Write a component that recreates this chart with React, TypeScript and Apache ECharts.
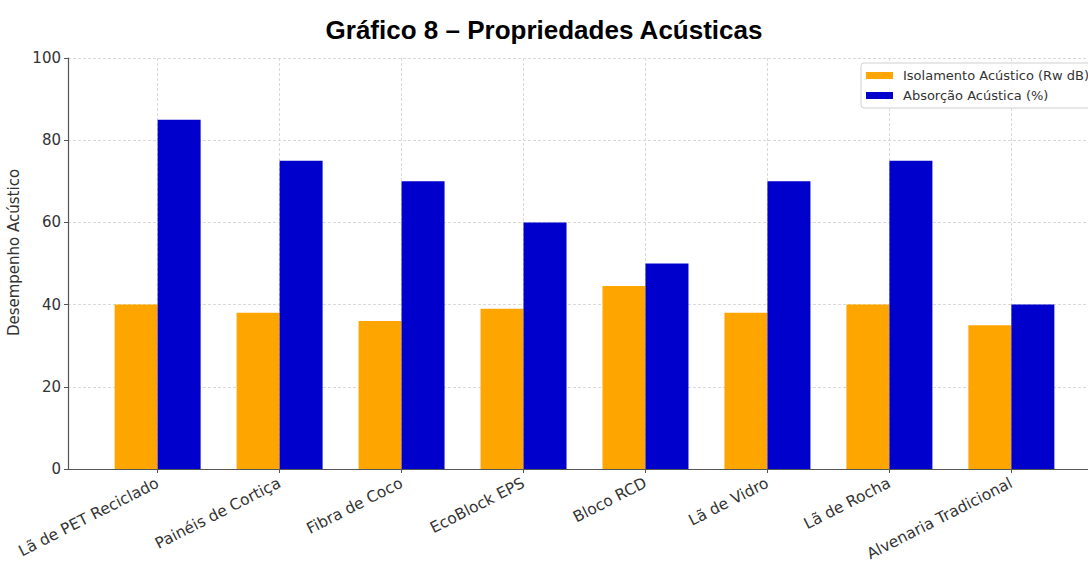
import React, { useEffect, useRef } from "react";
import * as echarts from "echarts";

const categories = [
  "Lã de PET Reciclado",
  "Painéis de Cortiça",
  "Fibra de Coco",
  "EcoBlock EPS",
  "Bloco RCD",
  "Lã de Vidro",
  "Lã de Rocha",
  "Alvenaria Tradicional",
];
const isolamento = [40, 38, 36, 39, 44.5, 38, 40, 35];
const absorcao = [85, 75, 70, 60, 50, 70, 75, 40];
const seriesNames = ["Isolamento Acústico (Rw dB)", "Absorção Acústica (%)"];
const yTicks = [0, 20, 40, 60, 80, 100];

const FONT = "DejaVu Sans";

export default function App() {
  const ref = useRef<HTMLDivElement>(null);
  useEffect(() => {
    if (!ref.current) return;
    const chart = echarts.init(ref.current, null, { renderer: "svg" });
    const idx = categories.map((_, i) => i);
    chart.setOption({
      animation: false,
      backgroundColor: "#ffffff",
      title: {
        text: "Gráfico 8 – Propriedades Acústicas",
        left: "center",
        top: 12,
        textStyle: {
          fontFamily: "Liberation Sans",
          fontWeight: "bold",
          fontSize: 26,
          color: "#000",
        },
      },
      legend: {
        orient: "vertical",
        left: 861,
        top: 63,
        padding: [6, 6, 6, 5],
        itemWidth: 27,
        itemHeight: 7,
        itemGap: 7,
        borderColor: "#d0d0d0",
        borderWidth: 1,
        borderRadius: 3,
        backgroundColor: "rgba(255,255,255,0.85)",
        icon: "rect",
        textStyle: { fontFamily: FONT, fontSize: 13, color: "#333", padding: [0, 0, 0, 5] },
        data: seriesNames,
      },
      grid: {
        left: 68,
        top: 58,
        bottom: 95,
        right: -13,
        containLabel: false,
        outerBoundsMode: "none",
      },
      xAxis: {
        type: "value",
        min: -0.735,
        max: 7.735,
        axisLine: { show: true, onZero: false, lineStyle: { color: "#555", width: 1.2 } },
        axisTick: { show: true, length: 4, customValues: idx, lineStyle: { color: "#555" } },
        axisLabel: {
          customValues: idx,
          rotate: 27,
          margin: 13,
          fontFamily: FONT,
          fontSize: 15.5,
          color: "#333",
          formatter: (v: number) => categories[Math.round(v)] ?? "",
        },
        splitLine: {
          show: true,
          lineStyle: { color: "#d9d9d9", type: [3, 2], width: 1 },
        },
      },
      yAxis: {
        type: "value",
        min: yTicks[0],
        max: yTicks[yTicks.length - 1],
        interval: 20,
        name: "Desempenho Acústico",
        nameLocation: "middle",
        nameGap: 37,
        nameTextStyle: { fontFamily: FONT, fontSize: 15, color: "#333", padding: [0, 0, 0, 22] },
        axisLine: { show: true, onZero: false, lineStyle: { color: "#555", width: 1.2 } },
        axisTick: { show: true, length: 4, lineStyle: { color: "#555" } },
        axisLabel: { fontFamily: FONT, fontSize: 15, color: "#333", margin: 7 },
        splitLine: {
          show: true,
          lineStyle: { color: "#d9d9d9", type: [3, 2], width: 1 },
        },
      },
      series: [
        {
          name: seriesNames[0],
          type: "bar",
          barWidth: 43,
          barGap: "0%",
          itemStyle: { color: "#FFA500" },
          data: isolamento.map((v, i) => [i, v]),
        },
        {
          name: seriesNames[1],
          type: "bar",
          barWidth: 43,
          barGap: "0%",
          itemStyle: { color: "#0000CD" },
          data: absorcao.map((v, i) => [i, v]),
        },
      ],
    });
    return () => chart.dispose();
  }, []);
  return (
    <div
      ref={ref}
      style={{ position: "fixed", left: 0, top: 0, width: 1088, height: 564 }}
    />
  );
}
